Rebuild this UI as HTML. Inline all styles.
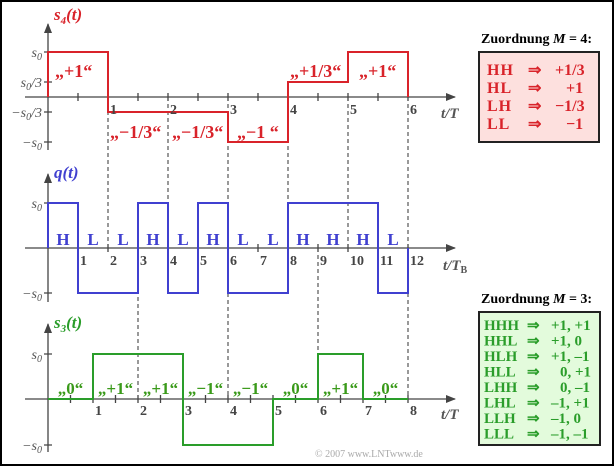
<!DOCTYPE html>
<html><head><meta charset="utf-8"><style>
html,body{margin:0;padding:0;background:#fff}
svg{display:block}
text{font-family:"Liberation Serif",serif}
</style></head><body>
<svg width="614" height="466" viewBox="0 0 614 466" xmlns="http://www.w3.org/2000/svg">
<defs>
<marker id="ar" markerWidth="10" markerHeight="8" refX="9" refY="4" orient="auto" markerUnits="userSpaceOnUse">
<path d="M0,0 L10,4 L0,8 Z" fill="#444"/></marker>
</defs>
<rect x="1" y="1" width="612" height="464" fill="#fff" stroke="#000" stroke-width="2"/>

<g stroke="#333" stroke-width="1" stroke-dasharray="4,3">
<line x1="108" y1="97" x2="108" y2="248"/>
<line x1="168" y1="97" x2="168" y2="248"/>
<line x1="228" y1="97" x2="228" y2="399"/>
<line x1="288" y1="97" x2="288" y2="248"/>
<line x1="348" y1="97" x2="348" y2="248"/>
<line x1="408" y1="97" x2="408" y2="399"/>
<line x1="138" y1="248" x2="138" y2="399"/>
<line x1="318" y1="248" x2="318" y2="399"/>
</g>

<g stroke="#444" stroke-width="1.3" fill="none">
<line x1="48" y1="150" x2="48" y2="24" marker-end="url(#ar)"/>
<line x1="25" y1="97" x2="455" y2="97" marker-end="url(#ar)"/>
<line x1="48" y1="302" x2="48" y2="174" marker-end="url(#ar)"/>
<line x1="25" y1="248" x2="455" y2="248" marker-end="url(#ar)"/>
<line x1="48" y1="452" x2="48" y2="324" marker-end="url(#ar)"/>
<line x1="25" y1="399" x2="455" y2="399" marker-end="url(#ar)"/>
<path d="M44,52h8M44,82h8M44,112h8M44,142h8M44,203h8M44,293h8M44,354h8M44,445h8"/>
<path d="M78,93v8M138,93v8M198,93v8M258,93v8M318,93v8M378,93v8M108,93v8M168,93v8M228,93v8M288,93v8M348,93v8M408,93v8"/>
<path d="M78,244v8M108,244v8M138,244v8M168,244v8M198,244v8M228,244v8M258,244v8M288,244v8M318,244v8M348,244v8M378,244v8M408,244v8"/>
<path d="M70.5,395v8M93,395v8M115.5,395v8M138,395v8M160.5,395v8M183,395v8M205.5,395v8M228,395v8M250.5,395v8M273,395v8M295.5,395v8M318,395v8M340.5,395v8M363,395v8M385.5,395v8M408,395v8"/>
</g>

<polyline fill="none" stroke="#d9232a" stroke-width="2" points="48,97 48,52 108,52 108,112 228,112 228,142 288,142 288,82 348,82 348,52 408,52 408,97"/>
<polyline fill="none" stroke="#4040d0" stroke-width="2" points="48,248 48,203 78,203 78,293 138,293 138,203 168,203 168,293 198,293 198,203 228,203 228,293 288,293 288,203 378,203 378,293 408,293 408,248"/>
<polyline fill="none" stroke="#2a9d2a" stroke-width="2" points="48,399 93,399 93,354 183,354 183,445 273,445 273,399 318,399 318,354 363,354 363,399 408,399"/>

<g fill="#555" font-size="14" font-style="italic" text-anchor="end">
<text x="42" y="57">s<tspan font-size="10" dy="3">0</tspan></text>
<text x="42" y="87">s<tspan font-size="10" dy="3">0</tspan><tspan dy="-3">/3</tspan></text>
<text x="42" y="117">−s<tspan font-size="10" dy="3">0</tspan><tspan dy="-3">/3</tspan></text>
<text x="42" y="147">−s<tspan font-size="10" dy="3">0</tspan></text>
<text x="42" y="208">s<tspan font-size="10" dy="3">0</tspan></text>
<text x="42" y="298">−s<tspan font-size="10" dy="3">0</tspan></text>
<text x="42" y="359">s<tspan font-size="10" dy="3">0</tspan></text>
<text x="42" y="450">−s<tspan font-size="10" dy="3">0</tspan></text>
</g>
<g fill="#555" font-size="15" font-weight="bold" font-style="italic">
<text x="441" y="118">t/T</text>
<text x="443" y="270">t/T<tspan font-size="10" dy="3" font-style="normal">B</tspan></text>
<text x="441" y="419">t/T</text>
</g>
<text x="54" y="20" fill="#d9232a" font-size="17" font-weight="bold" font-style="italic">s<tspan font-size="11" dy="4">4</tspan><tspan dy="-4">(t)</tspan></text>
<text x="54" y="178" fill="#4040d0" font-size="17" font-weight="bold" font-style="italic">q(t)</text>
<text x="54" y="328" fill="#2a9d2a" font-size="17" font-weight="bold" font-style="italic">s<tspan font-size="11" dy="4">3</tspan><tspan dy="-4">(t)</tspan></text>

<g fill="#444" font-size="14" font-weight="bold">
<text x="110" y="114">1</text><text x="170" y="114">2</text><text x="230" y="114">3</text><text x="290" y="114">4</text><text x="350" y="114">5</text><text x="410" y="114">6</text>
<text x="80" y="265">1</text><text x="110" y="265">2</text><text x="140" y="265">3</text><text x="170" y="265">4</text><text x="200" y="265">5</text><text x="230" y="265">6</text><text x="260" y="265">7</text><text x="290" y="265">8</text><text x="320" y="265">9</text><text x="350" y="265">10</text><text x="380" y="265">11</text><text x="410" y="265">12</text>
<text x="95" y="415">1</text><text x="140" y="415">2</text><text x="185" y="415">3</text><text x="230" y="415">4</text><text x="275" y="415">5</text><text x="320" y="415">6</text><text x="365" y="415">7</text><text x="410" y="415">8</text>
</g>

<g fill="#d9232a" font-size="18" font-weight="bold">
<text x="55" y="77">„+1“</text>
<text x="110" y="138">„−1/3“</text>
<text x="172" y="138">„−1/3“</text>
<text x="237" y="138">„−1 “</text>
<text x="290" y="77">„+1/3“</text>
<text x="359" y="77">„+1“</text>
</g>
<g fill="#4040d0" font-size="17" font-weight="bold" text-anchor="middle">
<text x="63" y="245">H</text><text x="93" y="245">L</text><text x="123" y="245">L</text><text x="153" y="245">H</text><text x="183" y="245">L</text><text x="213" y="245">H</text><text x="243" y="245">L</text><text x="273" y="245">L</text><text x="303" y="245">H</text><text x="333" y="245">H</text><text x="363" y="245">H</text><text x="393" y="245">L</text>
</g>
<g fill="#3a9a1a" font-size="17" font-weight="bold" text-anchor="middle">
<text x="70.5" y="394">„0“</text><text x="115.5" y="394">„+1“</text><text x="160.5" y="394">„+1“</text><text x="205.5" y="394">„−1“</text><text x="250.5" y="394">„−1“</text><text x="295.5" y="394">„0“</text><text x="340.5" y="394">„+1“</text><text x="385.5" y="394">„0“</text>
</g>

<text x="315" y="457" fill="#aaa" font-size="10">© 2007 www.LNTwww.de</text>

<text x="481" y="43" font-size="14" font-weight="bold" fill="#000">Zuordnung <tspan font-style="italic">M</tspan> = 4:</text>
<rect x="479" y="52" width="120" height="90" fill="#fde0de" stroke="#222" stroke-width="2"/>
<g fill="#d9232a" font-size="16" font-weight="bold">
<text x="487" y="75" letter-spacing="1">HH</text><text x="528" y="75">⇒</text><text x="555" y="75">+1/3</text>
<text x="487" y="93" letter-spacing="1">HL</text><text x="528" y="93">⇒</text><text x="566" y="93">+1</text>
<text x="487" y="111" letter-spacing="1">LH</text><text x="528" y="111">⇒</text><text x="555" y="111">−1/3</text>
<text x="487" y="129" letter-spacing="1">LL</text><text x="528" y="129">⇒</text><text x="566" y="129">−1</text>
</g>

<text x="481" y="303" font-size="14" font-weight="bold" fill="#000">Zuordnung <tspan font-style="italic">M</tspan> = 3:</text>
<rect x="479" y="312" width="121" height="133" fill="#e3fbdc" stroke="#222" stroke-width="2"/>
<g fill="#2a9d2a" font-size="15" font-weight="bold">
<text x="484" y="330">HHH</text><text x="527" y="330">⇒</text><text x="551" y="330">+1, +1</text>
<text x="484" y="345.5">HHL</text><text x="527" y="345.5">⇒</text><text x="551" y="345.5">+1,  0</text>
<text x="484" y="361">HLH</text><text x="527" y="361">⇒</text><text x="551" y="361">+1, –1</text>
<text x="484" y="376.5">HLL</text><text x="527" y="376.5">⇒</text><text x="560" y="376.5">0, +1</text>
<text x="484" y="392">LHH</text><text x="527" y="392">⇒</text><text x="560" y="392">0, –1</text>
<text x="484" y="407.5">LHL</text><text x="527" y="407.5">⇒</text><text x="551" y="407.5">–1, +1</text>
<text x="484" y="423">LLH</text><text x="527" y="423">⇒</text><text x="551" y="423">–1,  0</text>
<text x="484" y="438.5">LLL</text><text x="527" y="438.5">⇒</text><text x="551" y="438.5">–1, –1</text>
</g>
</svg>
</body></html>
